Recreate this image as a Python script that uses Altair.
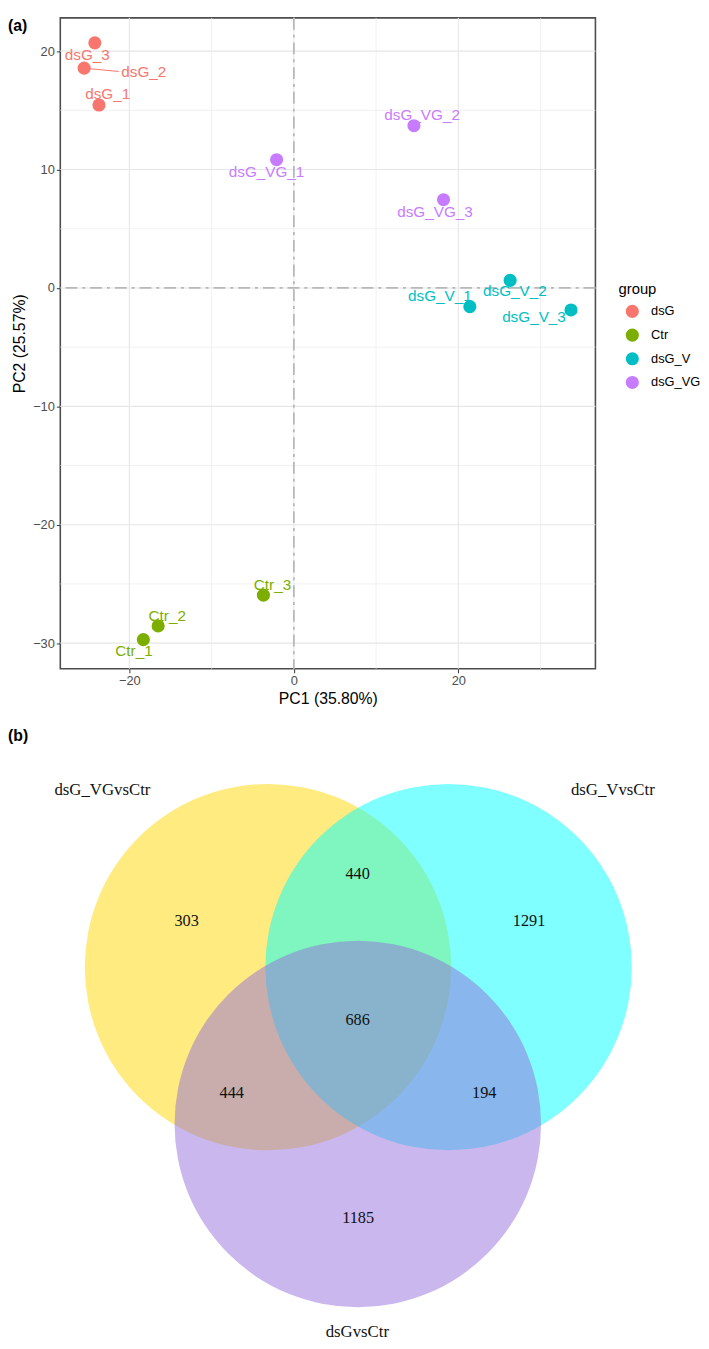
import math
import altair as alt
import pandas as pd

# ---------------- Panel (a): PCA ----------------
samples = ["dsG_1", "dsG_2", "dsG_3", "Ctr_1", "Ctr_2", "Ctr_3",
           "dsG_V_1", "dsG_V_2", "dsG_V_3", "dsG_VG_1", "dsG_VG_2", "dsG_VG_3"]
groups = ["dsG", "dsG", "dsG", "Ctr", "Ctr", "Ctr",
          "dsG_V", "dsG_V", "dsG_V", "dsG_VG", "dsG_VG", "dsG_VG"]
pc1 = [-23.7, -25.5, -24.2, -18.3, -16.5, -3.7, 21.4, 26.3, 33.7, -2.1, 14.6, 18.2]
pc2 = [15.45, 18.56, 20.7, -29.7, -28.55, -25.95, -1.58, 0.64, -1.86, 10.83, 13.7, 7.45]
# repelled label anchor positions (data units)
label_x = [-22.64, -18.24, -25.12, -19.44, -15.4, -2.6, 17.76, 26.88, 29.2, -3.32, 15.6, 17.16]
label_y = [16.39, 18.2, 19.67, -30.67, -27.72, -25.08, -0.69, -0.28, -2.42, 9.81, 14.58, 6.45]
# leader segment (ggrepel) for dsG_2
seg_sample = ["dsG_2"]
seg_end_x = [-21.3]
seg_end_y = [18.28]

group_order = ["dsG", "Ctr", "dsG_V", "dsG_VG"]
group_colors = ["#F8766D", "#7CAE00", "#00BFC4", "#C77CFF"]

x_major = [-20, 0, 20]
x_minor = [-10, 10, 30]
y_major = [-30, -20, -10, 0, 10, 20]
y_minor = [-25, -15, -5, 5, 15]

# ---------------- Panel (b): Venn ----------------
set_names = ["dsG_VGvsCtr", "dsG_VvsCtr", "dsGvsCtr"]
set_colors = ["#FFD700", "#00FFFF", "#9370DB"]
region_counts = [303, 1291, 1185, 440, 444, 194, 686]

# layout (pixels)
W = 542.3
H = 659.7
X_DOM = [-28.40, 36.67]
Y_DOM = [-32.17, 22.81]
PX0, PY0 = 61, 8
R = 185.7
venn_cx = [271.5, 454.5, 362.5]
venn_cy = [970, 970, 1129]
count_px = [189, 536, 362.8, 362.3, 234.7, 490.7, 362.3]
count_py = [923.3, 923.3, 1224, 876, 1097.7, 1097.7, 1024]
setlab_px = [103.7, 621, 362]
setlab_py = [790.7, 790.7, 1340]
tag_text = ["(a)", "(b)"]
tag_px = [8, 8]
tag_py = [16, 736]

FONT = "Liberation Sans"
PT_SIZE = 177

pca = pd.DataFrame({"sample": samples, "group": groups, "PC1": pc1, "PC2": pc2,
                    "lx": label_x, "ly": label_y})
seg = pd.DataFrame({"sample": seg_sample, "x2": seg_end_x, "y2": seg_end_y})
seg = seg.merge(pca[["sample", "group", "PC1", "PC2"]], on="sample")

xs = alt.Scale(domain=X_DOM, nice=False, zero=False)
ys = alt.Scale(domain=Y_DOM, nice=False, zero=False)
cs = alt.Scale(domain=group_order, range=group_colors)

x_axis = alt.Axis(values=x_major, title="PC1 (35.80%)", grid=False, domain=False,
                  tickSize=4, tickColor="#333333", labelFontSize=13, labelColor="#4d4d4d",
                  labelPadding=2, labelFlush=False, labelOverlap=False,
                  titleFontSize=16, titleFontWeight="normal", titleColor="#000000",
                  titlePadding=3, labelFont=FONT, titleFont=FONT)
y_axis = alt.Axis(values=y_major, title="PC2 (25.57%)", grid=False, domain=False,
                  tickSize=4, tickColor="#333333", labelFontSize=13, labelColor="#4d4d4d",
                  labelPadding=2, labelFlush=False, labelOverlap=False,
                  titleFontSize=16, titleFontWeight="normal", titleColor="#000000",
                  titlePadding=5, labelFont=FONT, titleFont=FONT)
legend = alt.Legend(title="group", orient="none", legendX=565.7, legendY=267.5,
                    titleFontSize=15, titleFontWeight="normal", titleColor="#000000",
                    titleFont=FONT, labelFont=FONT, labelFontSize=13, labelColor="#000000",
                    symbolType="circle", symbolSize=PT_SIZE, symbolStrokeWidth=0,
                    symbolOpacity=1, symbolOffset=7, labelOffset=12, rowPadding=10,
                    titlePadding=8, padding=0)

gx_major = alt.Chart(pd.DataFrame({"v": x_major})).mark_rule(color="#e6e6e6", strokeWidth=1.1).encode(
    x=alt.X("v:Q", scale=xs, axis=x_axis))
gx_minor = alt.Chart(pd.DataFrame({"v": x_minor})).mark_rule(color="#ebebeb", strokeWidth=0.7).encode(
    x=alt.X("v:Q", scale=xs, axis=x_axis))
gy_major = alt.Chart(pd.DataFrame({"v": y_major})).mark_rule(color="#e6e6e6", strokeWidth=1.1).encode(
    y=alt.Y("v:Q", scale=ys, axis=y_axis))
gy_minor = alt.Chart(pd.DataFrame({"v": y_minor})).mark_rule(color="#ebebeb", strokeWidth=0.7).encode(
    y=alt.Y("v:Q", scale=ys, axis=y_axis))

ref_v = alt.Chart(pd.DataFrame({"v": [0]})).mark_rule(
    color="#b8b8b8", strokeWidth=1.8, strokeDash=[12, 5, 3, 5]).encode(
    x=alt.X("v:Q", scale=xs, axis=x_axis))
ref_h = alt.Chart(pd.DataFrame({"v": [0]})).mark_rule(
    color="#b8b8b8", strokeWidth=1.8, strokeDash=[12, 5, 3, 5]).encode(
    y=alt.Y("v:Q", scale=ys, axis=y_axis))

segs = alt.Chart(seg).mark_rule(strokeWidth=1).encode(
    x=alt.X("PC1:Q", scale=xs, axis=x_axis), y=alt.Y("PC2:Q", scale=ys, axis=y_axis),
    x2="x2:Q", y2="y2:Q",
    color=alt.Color("group:N", scale=cs, legend=legend))

points = alt.Chart(pca).mark_circle(size=PT_SIZE, opacity=1).encode(
    x=alt.X("PC1:Q", scale=xs, axis=x_axis), y=alt.Y("PC2:Q", scale=ys, axis=y_axis),
    color=alt.Color("group:N", scale=cs, legend=legend))

labels = alt.Chart(pca).mark_text(fontSize=15.5, font=FONT, align="center", baseline="middle").encode(
    x=alt.X("lx:Q", scale=xs, axis=x_axis), y=alt.Y("ly:Q", scale=ys, axis=y_axis),
    text="sample:N",
    color=alt.Color("group:N", scale=cs, legend=legend))

scatter = alt.layer(gx_minor, gy_minor, gx_major, gy_major, ref_v, ref_h, segs, points, labels)

# ---- Venn layer in pixel units ----
vx = alt.Scale(domain=[PX0, PX0 + W], nice=False, zero=False)
vy = alt.Scale(domain=[PY0, PY0 + H], nice=False, zero=False, reverse=True)

circ_df = pd.DataFrame({"set": set_names, "fill": set_colors, "cx": venn_cx, "cy": venn_cy})
cnt_df = pd.DataFrame({"n": region_counts, "x": count_px, "y": count_py})
setlab_df = pd.DataFrame({"set": set_names, "x": setlab_px, "y": setlab_py})
tag_df = pd.DataFrame({"t": tag_text, "x": tag_px, "y": tag_py})

# Vega symbol size is the area of the bounding square: (2R)^2
circles = alt.Chart(circ_df).mark_circle(size=(2 * R) ** 2, opacity=0.5).encode(
    x=alt.X("cx:Q", scale=vx, axis=None), y=alt.Y("cy:Q", scale=vy, axis=None),
    color=alt.Color("fill:N", scale=None))
counts = alt.Chart(cnt_df).mark_text(font="Liberation Serif", fontSize=16.5, color="#111111",
                                     align="center", baseline="middle").encode(
    x=alt.X("x:Q", scale=vx, axis=None), y=alt.Y("y:Q", scale=vy, axis=None), text="n:Q")
setlabs = alt.Chart(setlab_df).mark_text(font="Liberation Serif", fontSize=17, color="#111111",
                                         align="center", baseline="middle").encode(
    x=alt.X("x:Q", scale=vx, axis=None), y=alt.Y("y:Q", scale=vy, axis=None), text="set:N")
tags = alt.Chart(tag_df).mark_text(font=FONT, fontSize=16, fontWeight="bold", color="#000000",
                                   align="left", baseline="middle").encode(
    x=alt.X("x:Q", scale=vx, axis=None), y=alt.Y("y:Q", scale=vy, axis=None), text="t:N")

venn = alt.layer(circles, counts, setlabs, tags)

chart = alt.layer(scatter, venn).resolve_scale(
    x="independent", y="independent", color="independent"
).properties(
    width=W, height=H, padding=0,
    view=alt.ViewBackground(stroke="#4d4d4d", strokeWidth=1.6)
).configure(font=FONT)

chart.save("out.html", embed_options={"renderer": "svg", "actions": False})
